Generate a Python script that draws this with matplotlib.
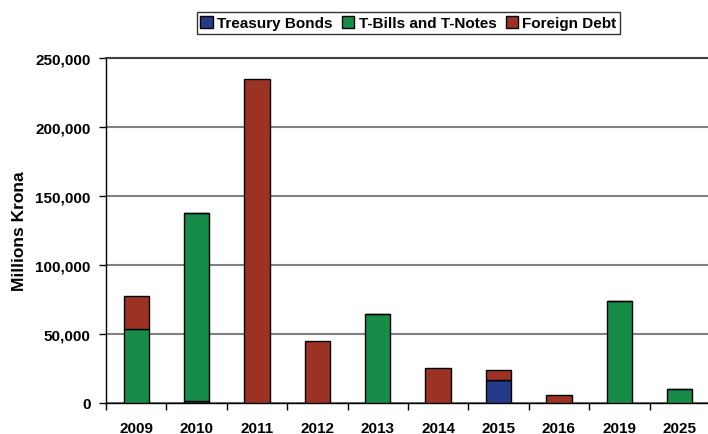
import matplotlib.pyplot as plt
import numpy as np

plt.rcParams['font.family'] = ['Liberation Sans', 'DejaVu Sans']
plt.rcParams['font.weight'] = 'bold'

# Maturity profile (millions krona)
years = ['2009', '2010', '2011', '2012', '2013', '2014', '2015', '2016', '2019', '2025']
treasury_bonds = [0, 1200, 0, 0, 0, 0, 16700, 0, 0, 0]
bills_notes = [53500, 136300, 0, 0, 64700, 0, 0, 0, 74000, 10200]
foreign_debt = [24000, 0, 234500, 45000, 0, 25400, 7300, 5800, 0, 0]

navy = '#263a8a'
green = '#178c48'
red = '#9b3224'

fig = plt.figure(figsize=(7.08, 4.35), dpi=100)
ax = fig.add_axes([0.1497, 0.0713, 0.853, 0.7931])

x = np.arange(len(years))
w = 0.42
tb = np.array(treasury_bonds)
bn = np.array(bills_notes)
fd = np.array(foreign_debt)

ax.bar(x, tb, w, color=navy, edgecolor='black', linewidth=1, label='Treasury Bonds', zorder=3)
ax.bar(x, bn, w, bottom=tb, color=green, edgecolor='black', linewidth=1, label='T-Bills and T-Notes', zorder=3)
ax.bar(x, fd, w, bottom=tb + bn, color=red, edgecolor='black', linewidth=1, label='Foreign Debt', zorder=3)

ax.set_xlim(-0.5, len(years) - 0.5)
ax.set_ylim(0, 250000)
ax.set_yticks(np.arange(0, 250001, 50000))
ax.set_yticklabels([f'{v:,}' for v in range(0, 250001, 50000)], fontsize=11, fontweight='bold')
ax.set_xticks(x)
ax.set_xticklabels(years, fontsize=11, fontweight='bold')
ax.set_xticks(np.arange(-0.5, len(years)), minor=True)
ax.tick_params(axis='x', which='major', length=0, pad=13)
ax.tick_params(axis='x', which='minor', length=5, width=1, direction='out')
ax.tick_params(axis='y', length=5, width=1, pad=6)

ax.yaxis.grid(True, color='#808080', linewidth=1.5, zorder=0)
ax.set_axisbelow(True)
ax.spines['right'].set_visible(False)
ax.spines['top'].set_color('#404040')
ax.spines['top'].set_linewidth(1.5)
ax.spines['left'].set_linewidth(1)
ax.spines['bottom'].set_linewidth(1)

ax.set_ylabel('Millions Krona', fontsize=12.5, fontweight='bold', labelpad=6)

leg = fig.legend(loc='center', bbox_to_anchor=(0.577, 0.944), ncol=3, fontsize=11,
                 frameon=True, fancybox=False, edgecolor='black', handlelength=0.8,
                 handleheight=0.8, handletextpad=0.3, columnspacing=0.6,
                 borderpad=0.25, borderaxespad=0)
leg.get_frame().set_linewidth(1)
for h in leg.legend_handles:
    h.set_edgecolor('black')

fig.savefig('out.png', dpi=100)
